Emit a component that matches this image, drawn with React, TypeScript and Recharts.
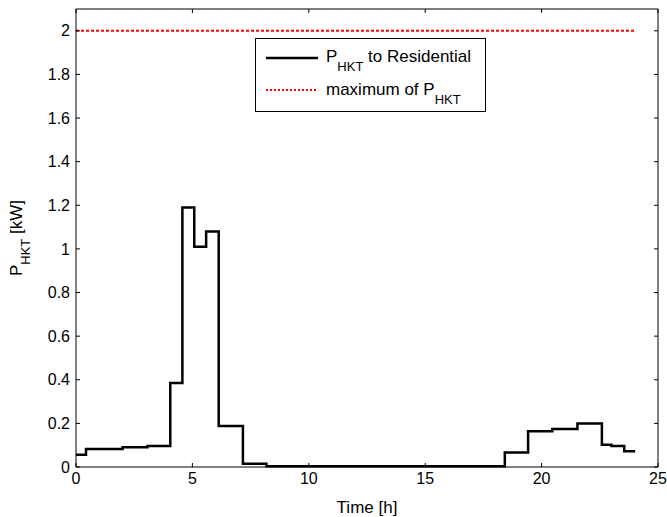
import React from 'react';
import { LineChart, Line, XAxis, YAxis, CartesianGrid, ReferenceLine } from 'recharts';

// stair levels of P_HKT (hour where each level starts)
const hours = [0, 0.43, 2.0, 3.07, 4.05, 4.57, 5.08, 5.59, 6.13, 7.17, 8.18, 18.42, 19.42, 20.46, 21.54, 22.59, 23.0, 23.55, 24.02];
const power = [0.056, 0.083, 0.09, 0.096, 0.385, 1.19, 1.01, 1.08, 0.188, 0.015, 0.003, 0.066, 0.164, 0.174, 0.2, 0.102, 0.096, 0.072, 0.072];

const maxHours = [0, 24.05];
const maxPower = [2, 2];

const xTicks = [0, 5, 10, 15, 20, 25];
const yTicks = [0, 0.2, 0.4, 0.6, 0.8, 1, 1.2, 1.4, 1.6, 1.8, 2];

const X_MAX = 25;
const Y_MAX = 2.1;

const seriesNames = ['to Residential', 'maximum of '];

const residential = hours.map((t, i) => ({ t, v: power[i] }));
const maximum = maxHours.map((t, i) => ({ t, v: maxPower[i] }));

const FONT = '"Liberation Sans", Arial, sans-serif';

const YLabel = (props: any) => {
  const { viewBox } = props;
  const cx = 22;
  const cy = viewBox.y + viewBox.height / 2;
  return (
    <text
      x={cx}
      y={cy}
      transform={`rotate(-90, ${cx}, ${cy})`}
      textAnchor="middle"
      fontSize={17}
      fill="#000"
      style={{ fontFamily: FONT }}
    >
      P<tspan fontSize={13} dy={8}>HKT</tspan>
      <tspan dy={-8}> [kW]</tspan>
    </text>
  );
};

const LegendBox = () => (
  <div
    style={{
      position: 'absolute',
      left: 255,
      top: 38,
      width: 231,
      height: 74,
      border: '1px solid #000',
      background: '#fff',
      boxSizing: 'border-box',
    }}
  >
    <svg width={231} height={74} style={{ position: 'absolute', left: -1, top: -1 }}>
      <line x1={11} x2={63} y1={20} y2={20} stroke="#000" strokeWidth={2.5} />
      <text x={71} y={24} fontSize={17} fill="#000" style={{ fontFamily: FONT }}>
        P<tspan fontSize={13} dy={9}>HKT</tspan>
        <tspan dy={-9}> {seriesNames[0]}</tspan>
      </text>
      <line x1={11} x2={63} y1={52} y2={52} stroke="#ff0000" strokeWidth={2} strokeDasharray="2 2" />
      <text x={71} y={57} fontSize={17} fill="#000" style={{ fontFamily: FONT }}>
        {seriesNames[1]}P<tspan fontSize={13} dy={9}>HKT</tspan>
      </text>
    </svg>
  </div>
);

const App: React.FC = () => {
  const axisLine = { stroke: '#000' };
  const tickStyle = { fill: '#000', fontSize: 16 };
  // tick length of the top / right frame, in data units (~4px)
  const tickX = 0.17;
  const tickY = 0.018;
  return (
    <div style={{ position: 'absolute', left: 0, top: 0, width: 667, height: 517, background: '#fff', fontFamily: FONT }}>
      <LineChart width={667} height={517} margin={{ top: 9, right: 9, left: 0, bottom: 0 }}>
        {/* frame edges: one grid line at the top, one at the right */}
        <CartesianGrid
          stroke="#000"
          strokeWidth={1}
          horizontalCoordinatesGenerator={(p: any) => [p.offset.top]}
          verticalCoordinatesGenerator={(p: any) => [p.offset.left + p.offset.width]}
        />
        <XAxis
          dataKey="t"
          type="number"
          domain={[0, X_MAX]}
          ticks={xTicks}
          height={50}
          axisLine={axisLine}
          tickLine={axisLine}
          tick={tickStyle}
          tickSize={-4}
          tickMargin={10}
          label={{ value: 'Time [h]', position: 'insideBottom', offset: 4, fill: '#000', fontSize: 17 }}
        />
        <YAxis
          type="number"
          domain={[0, Y_MAX]}
          ticks={yTicks}
          width={76}
          axisLine={axisLine}
          tickLine={axisLine}
          tick={tickStyle}
          tickSize={-4}
          tickMargin={10}
          label={{ content: YLabel }}
        />
        {xTicks.map((t) => (
          <ReferenceLine
            key={`tx${t}`}
            segment={[{ x: t, y: Y_MAX }, { x: t, y: Y_MAX - tickY }]}
            stroke="#000"
            ifOverflow="visible"
          />
        ))}
        {yTicks.map((v) => (
          <ReferenceLine
            key={`ty${v}`}
            segment={[{ x: X_MAX, y: v }, { x: X_MAX - tickX, y: v }]}
            stroke="#000"
            ifOverflow="visible"
          />
        ))}
        <Line
          data={residential}
          dataKey="v"
          type="stepAfter"
          stroke="#000"
          strokeWidth={2.5}
          dot={false}
          isAnimationActive={false}
        />
        <Line
          data={maximum}
          dataKey="v"
          type="linear"
          stroke="#ff0000"
          strokeWidth={2}
          strokeDasharray="3 2"
          dot={false}
          isAnimationActive={false}
        />
      </LineChart>
      <LegendBox />
    </div>
  );
};

export default App;
